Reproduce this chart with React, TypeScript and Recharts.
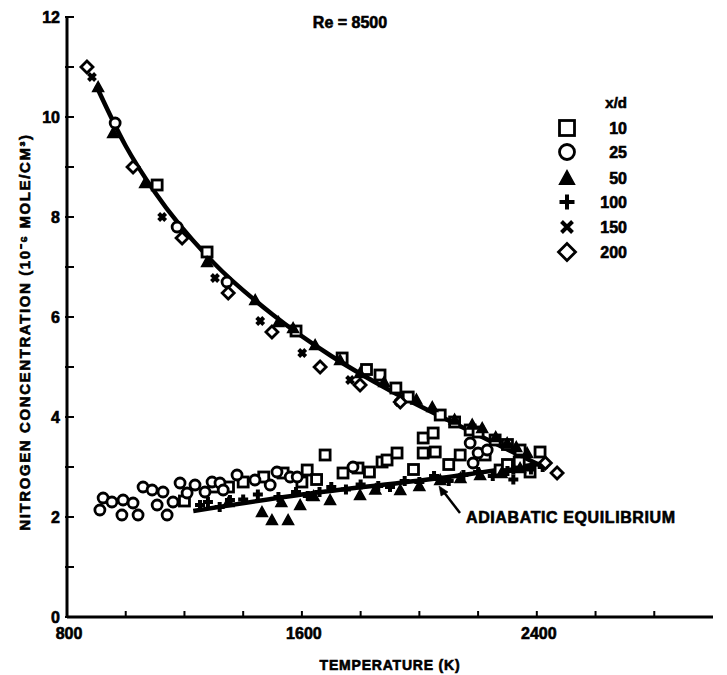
import React from "react";
import { ComposedChart, Scatter, Line, XAxis, YAxis } from "recharts";

// temperature (K), nitrogen concentration (10^-6 mole/cm3)
const xd10: number[][] = [
  [1107, 8.64], [1277, 7.3], [1580, 5.72], [1737, 5.18], [1820, 4.95], [1866, 4.84],
  [1920, 4.58], [1962, 4.4], [2071, 4.04], [2120, 3.9], [2173, 3.74], [2200, 3.7],
  [2258, 3.54], [2300, 3.45], [2343, 3.34], [2411, 3.3],
  [2013, 3.58], [2047, 3.68], [2013, 3.28], [2054, 3.3],
  [1200, 2.32], [1300, 2.6], [1350, 2.6], [1400, 2.7], [1470, 2.8], [1536, 2.88],
  [1600, 2.7], [1618, 2.94], [1650, 2.75], [1679, 3.24], [1740, 2.88], [1791, 2.98],
  [1830, 2.9], [1873, 3.1], [1890, 3.14], [1924, 3.28], [1980, 2.95], [2100, 3.05],
  [2139, 3.24], [2224, 3.24], [2275, 2.94], [2300, 3.05], [2340, 3.1], [2377, 2.9],
];
const xd25: number[][] = [
  [964, 9.88], [1175, 7.8], [1345, 6.7],
  [923, 2.38], [912, 2.14], [953, 2.3], [987, 2.04], [991, 2.34], [1025, 2.28],
  [1042, 2.04], [1059, 2.6], [1090, 2.54], [1107, 2.24], [1127, 2.5], [1141, 2.04],
  [1161, 2.3], [1185, 2.68], [1209, 2.48], [1236, 2.64], [1270, 2.5], [1294, 2.7],
  [1321, 2.68], [1332, 2.54], [1379, 2.84], [1440, 2.74], [1492, 2.64], [1515, 2.9],
  [1560, 2.8], [1584, 2.8], [1774, 3.0],
  [2173, 3.48], [2200, 3.28], [2231, 3.34], [2183, 3.08],
];
const xd50: number[][] = [
  [906, 10.6], [957, 9.68], [1066, 8.68], [1277, 7.1], [1441, 6.34], [1520, 5.9],
  [1570, 5.78], [1645, 5.44], [1730, 5.14], [1798, 4.88], [1880, 4.7], [1990, 4.35],
  [2044, 4.2], [2120, 3.95], [2180, 3.85], [2214, 3.78], [2260, 3.6], [2299, 3.48],
  [2330, 3.4], [2367, 3.28],
  [1350, 2.3], [1464, 2.1], [1498, 1.94], [1530, 2.3], [1553, 1.94], [1594, 2.24],
  [1640, 2.42], [1696, 2.34], [1798, 2.44], [1850, 2.55], [1935, 2.54], [2000, 2.62],
  [2071, 2.74], [2140, 2.78], [2207, 2.84], [2280, 2.88], [2343, 2.98],
];
const xd100: number[][] = [
  [1253, 2.24], [1280, 2.3], [1320, 2.2], [1355, 2.34], [1400, 2.35], [1450, 2.45],
  [1520, 2.4], [1580, 2.5], [1620, 2.42], [1660, 2.5], [1700, 2.6], [1750, 2.55],
  [1800, 2.65], [1860, 2.62], [1900, 2.6], [1950, 2.72], [2000, 2.7], [2050, 2.82],
  [2100, 2.72], [2150, 2.84], [2200, 2.9], [2250, 2.82], [2300, 2.92], [2320, 2.75],
  [2320, 2.95], [2380, 2.95], [2420, 3.0],
];
const xd150: number[][] = [
  [885, 10.8], [1124, 8.0], [1304, 6.78], [1458, 5.92], [1601, 5.28], [1764, 4.74], [1930, 4.3],
];
const xd200: number[][] = [
  [868, 11.0], [1025, 9.0], [1192, 7.58], [1349, 6.48], [1498, 5.7], [1662, 5.0],
  [1798, 4.64], [1935, 4.3], [2429, 3.08], [2469, 2.88],
];

const fitCurve: number[][] = [
  [900, 10.62], [1000, 9.42], [1100, 8.49], [1300, 7.08], [1500, 6.05],
  [1700, 5.22], [1900, 4.53], [2100, 3.93], [2300, 3.35], [2410, 3.04],
];
const adiabatic: number[][] = [
  [1230, 2.12], [1600, 2.45], [2070, 2.78], [2430, 3.08],
];

const xTicks = [800, 1000, 1200, 1400, 1600, 1800, 2000, 2200, 2400, 2600, 2800];
const xLabels = [800, 1600, 2400];
const yTicks = [0, 1, 2, 3, 4, 5, 6, 7, 8, 9, 10, 11, 12];
const yLabels = [0, 2, 4, 6, 8, 10, 12];
const legendItems = ["10", "25", "50", "100", "150", "200"];

const FONT = "'Liberation Sans', Arial, sans-serif";

const toPts = (a: number[][]) => a.map(([T, N]) => ({ T, N }));

const Square = ({ cx, cy, s = 10 }: any) => (
  <rect x={cx - s / 2} y={cy - s / 2} width={s} height={s} fill="#fff" stroke="#000" strokeWidth={2.8} />
);
const Circle = ({ cx, cy, s = 10 }: any) => (
  <circle cx={cx} cy={cy} r={s / 2} fill="#fff" stroke="#000" strokeWidth={2.8} />
);
const Triangle = ({ cx, cy, s = 11 }: any) => (
  <polygon
    points={`${cx},${cy - s / 2} ${cx + s / 2},${cy + s / 2.4} ${cx - s / 2},${cy + s / 2.4}`}
    fill="#000"
    stroke="#000"
    strokeWidth={1.5}
  />
);
const Plus = ({ cx, cy, s = 10 }: any) => (
  <path d={`M${cx - s / 2},${cy}H${cx + s / 2}M${cx},${cy - s / 2}V${cy + s / 2}`} stroke="#000" strokeWidth={4} />
);
const Cross = ({ cx, cy, s = 7 }: any) => (
  <path
    d={`M${cx - s / 2},${cy - s / 2}L${cx + s / 2},${cy + s / 2}M${cx + s / 2},${cy - s / 2}L${cx - s / 2},${cy + s / 2}`}
    stroke="#000"
    strokeWidth={4}
  />
);
const Diamond = ({ cx, cy, s = 12 }: any) => (
  <polygon
    points={`${cx},${cy - s / 2} ${cx + s / 2},${cy} ${cx},${cy + s / 2} ${cx - s / 2},${cy}`}
    fill="#fff"
    stroke="#000"
    strokeWidth={2.8}
  />
);

const XTick = ({ x, y, payload }: any) => (
  <g>
    <line x1={x} x2={x} y1={y} y2={y - 6} stroke="#000" strokeWidth={2} />
    {xLabels.includes(payload.value) && (
      <text x={x + 2} y={y + 22} textAnchor="middle" fontFamily={FONT} fontWeight="bold" fontSize={16} stroke="#000" strokeWidth={0.6}>
        {payload.value}
      </text>
    )}
  </g>
);

const YTick = ({ x, y, payload }: any) => (
  <g>
    <line x1={x - 2} x2={x + 7} y1={y} y2={y} stroke="#000" strokeWidth={2} />
    {yLabels.includes(payload.value) && (
      <text x={x - 7} y={y + 6} textAnchor="end" fontFamily={FONT} fontWeight="bold" fontSize={16} stroke="#000" strokeWidth={0.6}>
        {payload.value}
      </text>
    )}
  </g>
);

const legendShapes = [Square, Circle, Triangle, Plus, Cross, Diamond];

export default function App() {
  const W = 719;
  const H = 667;
  return (
    <div style={{ position: "relative", width: W, height: H }}>
      <ComposedChart width={W} height={H} margin={{ top: 9, right: 14, left: 0, bottom: 0 }}>
        <XAxis
          type="number"
          dataKey="T"
          domain={[800, 3000]}
          ticks={xTicks}
          interval={0}
          tick={<XTick />}
          tickLine={false}
          tickSize={0}
          tickMargin={0}
          height={58}
          axisLine={{ stroke: "#000", strokeWidth: 3 }}
        />
        <YAxis
          type="number"
          dataKey="N"
          domain={[0, 12]}
          ticks={yTicks}
          interval={0}
          tick={<YTick />}
          tickLine={false}
          tickSize={0}
          tickMargin={0}
          width={59}
          axisLine={{ stroke: "#000", strokeWidth: 3 }}
        />
        <Line
          data={toPts(fitCurve)}
          dataKey="N"
          type="monotone"
          stroke="#000"
          strokeWidth={4.5}
          dot={false}
          activeDot={false}
          isAnimationActive={false}
        />
        <Line
          data={toPts(adiabatic)}
          dataKey="N"
          type="monotone"
          stroke="#000"
          strokeWidth={4.5}
          dot={false}
          activeDot={false}
          isAnimationActive={false}
        />
        <Scatter name="10" data={toPts(xd10)} shape={(p: any) => <Square {...p} />} isAnimationActive={false} />
        <Scatter name="25" data={toPts(xd25)} shape={(p: any) => <Circle {...p} />} isAnimationActive={false} />
        <Scatter name="50" data={toPts(xd50)} shape={(p: any) => <Triangle {...p} />} isAnimationActive={false} />
        <Scatter name="100" data={toPts(xd100)} shape={(p: any) => <Plus {...p} />} isAnimationActive={false} />
        <Scatter name="150" data={toPts(xd150)} shape={(p: any) => <Cross {...p} />} isAnimationActive={false} />
        <Scatter name="200" data={toPts(xd200)} shape={(p: any) => <Diamond {...p} />} isAnimationActive={false} />
      </ComposedChart>

      <svg
        width={W}
        height={H}
        style={{ position: "absolute", left: 0, top: 0, pointerEvents: "none" }}
        fontFamily={FONT}
        fontWeight="bold"
        stroke="#000"
        strokeWidth={0.6}
      >
        <text x={342} y={20} textAnchor="middle" fontSize={16}>
          Re = 8500
        </text>
        <text
          transform="translate(16,324) rotate(-90)"
          textAnchor="middle"
          dominantBaseline="central"
          fontSize={15}
          letterSpacing={1.6}
        >
          NITROGEN CONCENTRATION (10⁻⁶ MOLE/CM³)
        </text>
        <text x={382} y={662} textAnchor="middle" fontSize={14} letterSpacing={0.8}>
          TEMPERATURE (K)
        </text>

        <text x={619} y={100} textAnchor="end" fontSize={15}>
          x/d
        </text>
        {legendItems.map((lab, i) => {
          const cy = [120, 144, 170, 194, 219, 244][i];
          const Shape = legendShapes[i];
          const s = [15, 15, 15, 15, 11, 17][i];
          return (
            <g key={lab}>
              <Shape cx={559} cy={cy} s={s} />
              <text x={619} y={cy + 6} textAnchor="end" fontSize={16}>
                {lab}
              </text>
            </g>
          );
        })}

        <line x1={452} y1={505} x2={435} y2={483} stroke="#000" strokeWidth={2.5} />
        <polygon points="431,478 440,484 433,488" fill="#000" />
        <text x={458} y={515} fontSize={16} letterSpacing={0.6}>
          ADIABATIC EQUILIBRIUM
        </text>
      </svg>
    </div>
  );
}
